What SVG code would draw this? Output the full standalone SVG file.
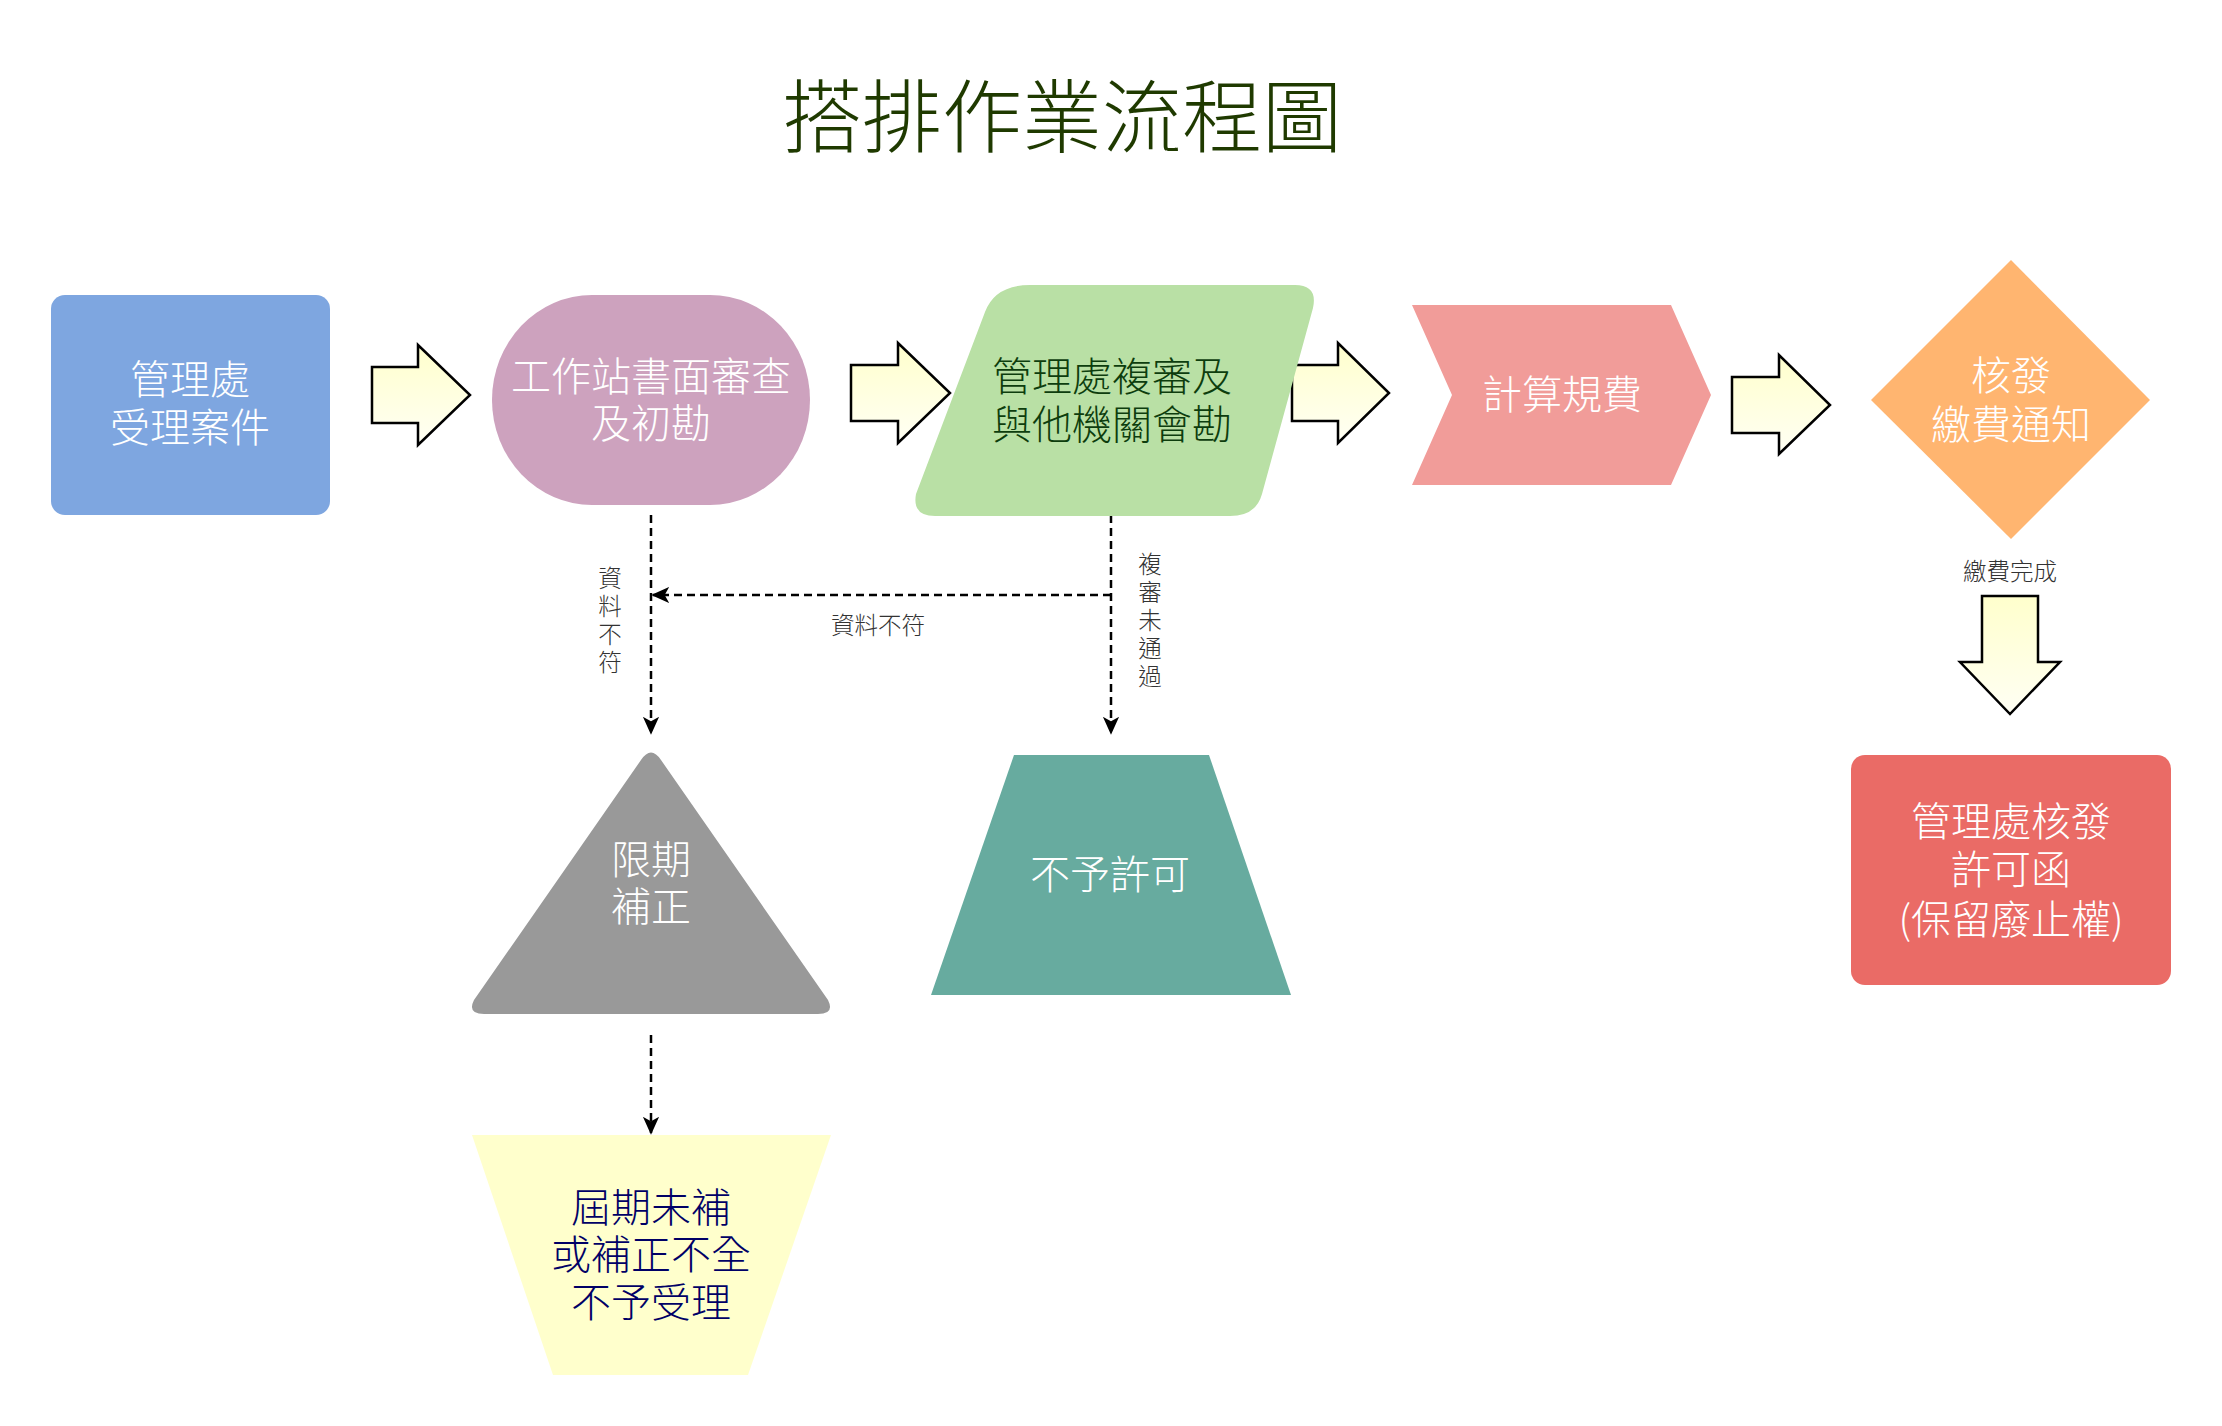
<svg xmlns="http://www.w3.org/2000/svg" width="2222" height="1426" viewBox="0 0 2222 1426">
<style>
text{font-family:"Noto Sans CJK TC","Noto Sans CJK SC",sans-serif;text-anchor:middle;dominant-baseline:central;font-weight:300}
.w{fill:#ffffff;font-size:40px}
.lbl{fill:#333333;font-size:23.5px}
.blk{fill:url(#ag);stroke:#000;stroke-width:2.5}
.dash{fill:none;stroke:#000;stroke-width:2.5;stroke-dasharray:8 5}
</style>
<defs>
<linearGradient id="ag" x1="0" y1="0" x2="0" y2="1"><stop offset="0" stop-color="#ffffcc"/><stop offset="1" stop-color="#fffff4"/></linearGradient>
<marker id="ah" viewBox="0 0 20 20" refX="18" refY="10" markerWidth="18" markerHeight="18" markerUnits="userSpaceOnUse" orient="auto"><path d="M0,1 L20,10 L0,19 L5,10 Z" fill="#000"/></marker>
</defs>
<rect width="2222" height="1426" fill="#fff"/>
<text x="1062" y="111" font-size="80" fill="#1f3a00">搭排作業流程圖</text>

<g id="connectors">
<path class="blk" d="M372,367 H418 V345 L470,395 L418,445 V423 H372 Z"/>
<path class="blk" d="M851,365 H898 V343 L950,393 L898,443 V421 H851 Z"/>
<path class="blk" d="M1292,365 H1338 V343 L1389,393 L1338,443 V421 H1292 Z"/>
<path class="blk" d="M1732,377 H1779 V355 L1830,405 L1779,454 V433 H1732 Z"/>
<path class="blk" d="M1982,596 H2038 V662 H2060 L2010,714 L1960,662 H1982 Z"/>
<path class="dash" d="M651,515 V733" marker-end="url(#ah)"/>
<path class="dash" d="M1111,515 V733" marker-end="url(#ah)"/>
<path class="dash" d="M1111,595 H653" marker-end="url(#ah)"/>
<path class="dash" d="M651,1035 V1133" marker-end="url(#ah)"/>
<text class="lbl" x="878" y="624">資料不符</text>
<text class="lbl" x="610" y="577"><tspan x="610">資</tspan><tspan x="610" dy="28">料</tspan><tspan x="610" dy="28">不</tspan><tspan x="610" dy="28">符</tspan></text>
<text class="lbl" x="1150" y="563"><tspan x="1150">複</tspan><tspan x="1150" dy="28">審</tspan><tspan x="1150" dy="28">未</tspan><tspan x="1150" dy="28">通</tspan><tspan x="1150" dy="28">過</tspan></text>
<text class="lbl" x="2010" y="570">繳費完成</text>
</g>

<g id="n1">
<rect x="51" y="295" width="279" height="220" rx="14" fill="#7ea6e0"/>
<text class="w" x="190" y="377"><tspan x="190">管理處</tspan><tspan x="190" dy="48">受理案件</tspan></text>
</g>
<g id="n2">
<rect x="492" y="295" width="318" height="210" rx="100" ry="105" fill="#cda2be"/>
<text class="w" x="651" y="374"><tspan x="651">工作站書面審查</tspan><tspan x="651" dy="47">及初勘</tspan></text>
</g>
<g id="n3">
<path d="M1030,285 H1295 Q1318,285 1313,308 L1262,494 Q1256,516 1230,516 H935 Q912,516 916,494 L985,312 Q995,285 1030,285 Z" fill="#b9e0a5"/>
<text x="1112" y="374" font-size="40" fill="#0d3d0d"><tspan x="1112">管理處複審及</tspan><tspan x="1112" dy="48">與他機關會勘</tspan></text>
</g>
<g id="n4">
<path d="M1412,305 H1671 L1711,395 L1671,485 H1412 L1452,395 Z" fill="#f19c99"/>
<text class="w" x="1562" y="392">計算規費</text>
</g>
<g id="n5">
<path d="M2011,260 L2150,400 L2011,539 L1871,400 Z" fill="#ffb570"/>
<text class="w" x="2011" y="373"><tspan x="2011">核發</tspan><tspan x="2011" dy="49">繳費通知</tspan></text>
</g>
<g id="n6">
<path d="M641,760 Q651,745 661,760 L828,1000 Q835,1014 818,1014 H484 Q467,1014 474,1000 Z" fill="#999999"/>
<text class="w" x="651" y="857"><tspan x="651">限期</tspan><tspan x="651" dy="47">補正</tspan></text>
</g>
<g id="n7">
<path d="M1014,755 H1209 L1291,995 H931 Z" fill="#67ab9f"/>
<text class="w" x="1110" y="872">不予許可</text>
</g>
<g id="n8">
<path d="M472,1135 H831 L748,1375 H553 Z" fill="#ffffcc"/>
<text x="651" y="1205" font-size="40" fill="#000066"><tspan x="651">屆期未補</tspan><tspan x="651" dy="47">或補正不全</tspan><tspan x="651" dy="48">不予受理</tspan></text>
</g>
<g id="n9">
<rect x="1851" y="755" width="320" height="230" rx="14" fill="#ea6b66"/>
<text class="w" x="2011" y="819"><tspan x="2011">管理處核發</tspan><tspan x="2011" dy="48">許可函</tspan><tspan x="2011" dy="50">(保留廢止權)</tspan></text>
</g>
</svg>
